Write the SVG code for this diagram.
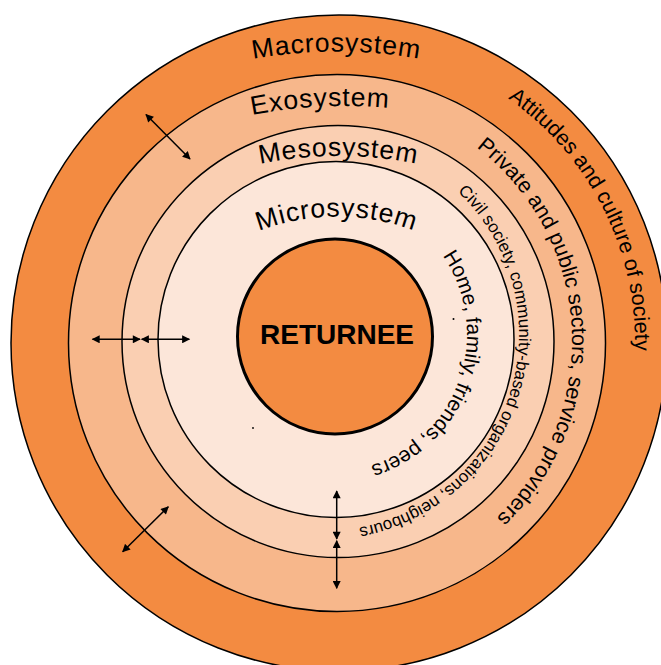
<svg xmlns="http://www.w3.org/2000/svg" width="661" height="665" viewBox="0 0 661 665">
<defs>
<style>
.ring{stroke:#000;stroke-width:1.5}
.lbl{font-family:"Liberation Sans",Arial,sans-serif;fill:#000}
.top{font-size:26.5px;letter-spacing:0.9px}
.conn{stroke:#000;stroke-width:1.5;fill:none;marker-start:url(#ah);marker-end:url(#ah)}
</style>
<marker id="ah" viewBox="0 0 10 10" refX="9" refY="5" markerWidth="9" markerHeight="8" markerUnits="userSpaceOnUse" orient="auto-start-reverse">
<path d="M0,0 L10,5 L0,10 z" fill="#000"/>
</marker>
<path id="pMacro" d="M 253 59 A 468.5 468.5 0 0 1 430 60.9"/>
<path id="pExo" d="M 252 115 A 480 480 0 0 1 420 111.9"/>
<path id="pMeso" d="M 260 164 A 394 394 0 0 1 430 166.7"/>
<path id="pMicro" d="M 259 231 A 219.7 219.7 0 0 1 425 235.1"/>
<path id="pAtt" d="M 507.9 98.4 A 299 299 0 0 1 617 445.3"/>
<path id="pPriv" d="M 476.5 147.4 A 244 244 0 0 1 411.4 570.3"/>
<path id="pCivil" d="M 457.5 191.6 A 196.5 196.5 0 0 1 256.8 519.6"/>
<path id="pHome" d="M 442.7 255.8 A 138 138 0 0 1 305 469.9"/>
</defs>
<rect width="661" height="665" fill="#fff"/>
<g id="macrosystem">
<circle class="ring" cx="339" cy="343" r="328" fill="#F38B41"/>
</g>
<g id="exosystem">
<circle class="ring" cx="337" cy="343" r="268.5" fill="#F7B78B"/>
</g>
<g id="mesosystem">
<circle class="ring" cx="338" cy="341.5" r="216" fill="#FACFB2"/>
</g>
<g id="microsystem">
<circle class="ring" cx="336" cy="339.5" r="178" fill="#FCE6D9"/>
</g>
<g id="returnee">
<circle cx="335" cy="336.5" r="97.5" fill="#F38B41" stroke="#000" stroke-width="3"/>
<text class="lbl" x="337" y="344" font-size="28" font-weight="bold" text-anchor="middle">RETURNEE</text>
</g>
<g id="labels">
<text class="lbl top"><textPath href="#pMacro">Macrosystem</textPath></text>
<text class="lbl top"><textPath href="#pExo">Exosystem</textPath></text>
<text class="lbl top"><textPath href="#pMeso">Mesosystem</textPath></text>
<text class="lbl top"><textPath href="#pMicro">Microsystem</textPath></text>
<text class="lbl" font-size="21.6"><textPath href="#pAtt">Attitudes and culture of society</textPath></text>
<text class="lbl" font-size="21.5"><textPath href="#pPriv">Private and public sectors, service providers</textPath></text>
<text class="lbl" font-size="17"><textPath href="#pCivil">Civil society, community-based organizations, neighbours</textPath></text>
<text class="lbl" font-size="20.8"><textPath href="#pHome">Home, family, friends, peers</textPath></text>
</g>
<g id="dots" fill="#000">
<circle cx="453.5" cy="319" r="1"/>
<circle cx="253" cy="428" r="0.9"/>
</g>
<g id="connectors">
<line class="conn" x1="146" y1="114.5" x2="190" y2="159"/>
<line class="conn" x1="92.5" y1="339.3" x2="140" y2="339.3"/>
<line class="conn" x1="141.7" y1="339.3" x2="189.3" y2="339.3"/>
<line class="conn" x1="336.7" y1="491" x2="336.7" y2="539"/>
<line class="conn" x1="336.7" y1="540.7" x2="336.7" y2="588.3"/>
<line class="conn" x1="168.3" y1="506.7" x2="122.7" y2="551.7"/>
</g>
</svg>
